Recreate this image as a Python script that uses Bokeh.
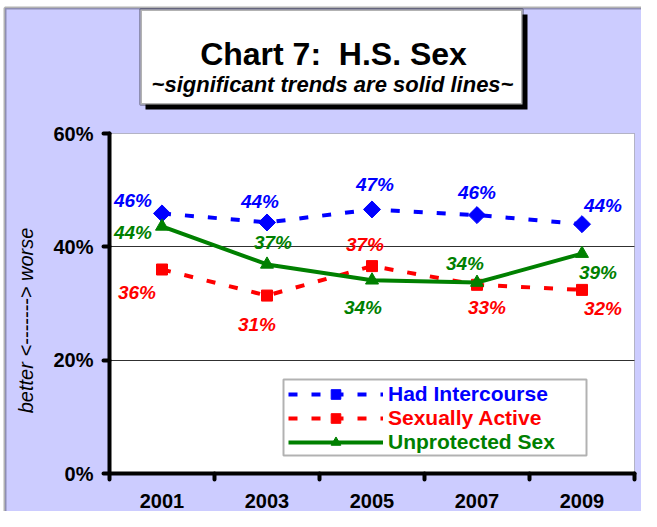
import math
from bokeh.plotting import figure
from bokeh.models import (Range1d, LinearAxis, FixedTicker, Grid, BoxAnnotation,
                          Label, Legend, LegendItem)
from bokeh.embed import file_html
from bokeh.resources import INLINE
from bokeh.core.properties import value

# ---------------- data ----------------
years = ["2001", "2003", "2005", "2007", "2009"]
had_intercourse = [45.9, 44.3, 46.6, 45.6, 44.0]
sexually_active = [36.0, 31.4, 36.6, 33.3, 32.4]
unprotected_sex = [43.6, 36.9, 34.1, 33.7, 38.8]
y_ticks = [0, 20, 40, 60]
series_names = ["Had Intercourse", "Sexually Active", "Unprotected Sex"]

# data-label offsets (screen px, y down)
hi_dx = [-29, -7, 3, 0, 21]
hi_dy = [-13, -21, -25, -23, -19]
sa_dx = [-25, -10, -7, 10, 21]
sa_dy = [23, 29, -22, 23, 19]
up_dx = [-29, 6, -9, -12, 16]
up_dy = [6, -22, 27, -19, 19]

BLUE, RED, GREEN = "#0000FF", "#FF0000", "#008000"
LAVENDER = "#CCCCFF"
FONT = "Liberation Sans"

# ---------------- layout helpers (canvas px -> data) ----------------
W, H = 641, 511
def xd(px):
    return -0.5 + (px - 109) / 105.0
def yd(py):
    return (473 - py) * 60.0 / 340.0

xs = list(range(len(years)))

p = figure(width=W, height=H,
           x_range=Range1d(xd(0), xd(W)), y_range=Range1d(yd(H), yd(0)),
           x_axis_location=None, y_axis_location=None,
           toolbar_location=None, output_backend="svg", min_border=0,
           background_fill_color="white", border_fill_color="white",
           outline_line_color=None)
p.center = [r for r in p.center if not isinstance(r, Grid)]

# outer lavender panel with black border (runs off right/bottom like the original)
p.add_layout(BoxAnnotation(left=xd(4.5), right=xd(720), top=yd(7.5), bottom=yd(523.5),
                           fill_color=LAVENDER, fill_alpha=1,
                           line_color="black", line_width=3, level="underlay"))
# white plot area
p.add_layout(BoxAnnotation(left=-0.5, right=4.5, bottom=0, top=60,
                           fill_color="white", fill_alpha=1,
                           line_color="#404040", line_width=1, level="underlay"))
p.add_layout(Grid(dimension=1, ticker=FixedTicker(ticks=[20, 40]),
                  cross_bounds=(-0.5, 4.5), grid_line_color="#303030",
                  grid_line_width=1))

# axes
xaxis = LinearAxis(fixed_location=0, bounds=(-0.5, len(years) - 0.5),
                   ticker=FixedTicker(ticks=xs, minor_ticks=[i - 0.5 for i in range(len(years) + 1)]),
                   major_label_overrides={i: y for i, y in enumerate(years)},
                   axis_line_width=4, axis_line_color="black", axis_line_cap="round",
                   major_tick_out=0, major_tick_in=0, major_tick_line_color=None,
                   minor_tick_out=6, minor_tick_in=0, minor_tick_line_width=4,
                   minor_tick_line_color="black", minor_tick_line_cap="round",
                   major_label_text_font=FONT, major_label_text_font_style="bold",
                   major_label_text_font_size="20px", major_label_text_color="black",
                   major_label_standoff=14)
p.add_layout(xaxis, "below")

yaxis = LinearAxis(fixed_location=-0.5, bounds=(0, 60),
                   ticker=FixedTicker(ticks=y_ticks),
                   major_label_overrides={t: f"{t}%" for t in y_ticks},
                   axis_line_width=4, axis_line_color="black", axis_line_cap="round",
                   major_tick_out=6, major_tick_in=0, major_tick_line_width=4,
                   major_tick_line_color="black", major_tick_line_cap="round",
                   minor_tick_out=0, minor_tick_in=0, minor_tick_line_color=None,
                   major_label_text_font=FONT, major_label_text_font_style="bold",
                   major_label_text_font_size="20px", major_label_text_color="black",
                   major_label_standoff=10)
p.add_layout(yaxis, "left")

# series
def series(vals, color, dash, marker, size, angle, dx, dy):
    ln = p.line(x=xs, y=vals, line_color=color, line_width=4, line_dash=dash)
    pt = p.scatter(x=xs, y=vals, marker=marker, size=size, angle=angle,
                   fill_color=color, line_color=color)
    p.text(x=xs, y=vals, text=[f"{round(v)}%" for v in vals],
           x_offset=dx, y_offset=dy, text_color=color,
           text_font=value(FONT), text_font_style="bold italic",
           text_font_size="19px", text_align="center", text_baseline="middle")
    return [ln, pt]

r_hi = series(had_intercourse, BLUE, "9 14", "square", 12, math.pi / 4, hi_dx, hi_dy)
r_sa = series(sexually_active, RED, "9 14", "square", 11, 0, sa_dx, sa_dy)
r_up = series(unprotected_sex, GREEN, "solid", "triangle", 13, 0, up_dx, up_dy)

# title box
p.add_layout(BoxAnnotation(left=xd(145), right=xd(527), top=yd(14), bottom=yd(109),
                           fill_color="black", fill_alpha=1, line_alpha=0))
p.add_layout(BoxAnnotation(left=xd(140), right=xd(522), top=yd(9), bottom=yd(104),
                           fill_color="white", fill_alpha=1,
                           line_color="black", line_width=3))
p.add_layout(Label(x=xd(333), y=yd(53), text="Chart 7:\u00a0\u00a0H.S. Sex",
                   text_align="center", text_baseline="alphabetic",
                   text_font=FONT, text_font_style="bold", text_font_size="32px",
                   text_color="black"))
p.add_layout(Label(x=xd(332), y=yd(84), text="~significant trends are solid lines~",
                   text_align="center", text_baseline="alphabetic",
                   text_font=FONT, text_font_style="bold italic", text_font_size="22px",
                   text_color="black"))

# axis title
p.add_layout(Label(x=xd(25), y=yd(320), text="better <-------> worse", angle=math.pi / 2,
                   text_align="center", text_baseline="middle",
                   text_font=FONT, text_font_style="italic", text_font_size="20px",
                   text_color="black"))

# legend box + one legend per row (for per-item text colours)
p.add_layout(BoxAnnotation(left=xd(283), right=xd(586), top=yd(379), bottom=yd(455),
                           fill_color="white", fill_alpha=1,
                           line_color="black", line_width=2))
for name, rs, color, loc_y in zip(series_names, [r_hi, r_sa, r_up],
                                  [BLUE, RED, GREEN], [105, 81, 57]):
    leg = Legend(items=[LegendItem(label=name, renderers=rs)], location=(288, loc_y),
                 border_line_color=None, background_fill_alpha=0,
                 padding=0, margin=0, spacing=0,
                 glyph_width=95, glyph_height=24, label_height=24, label_standoff=5,
                 label_text_font=FONT, label_text_font_style="bold",
                 label_text_font_size="21px", label_text_color=color)
    p.add_layout(leg)

open("out.html", "w").write(file_html(p, INLINE))
